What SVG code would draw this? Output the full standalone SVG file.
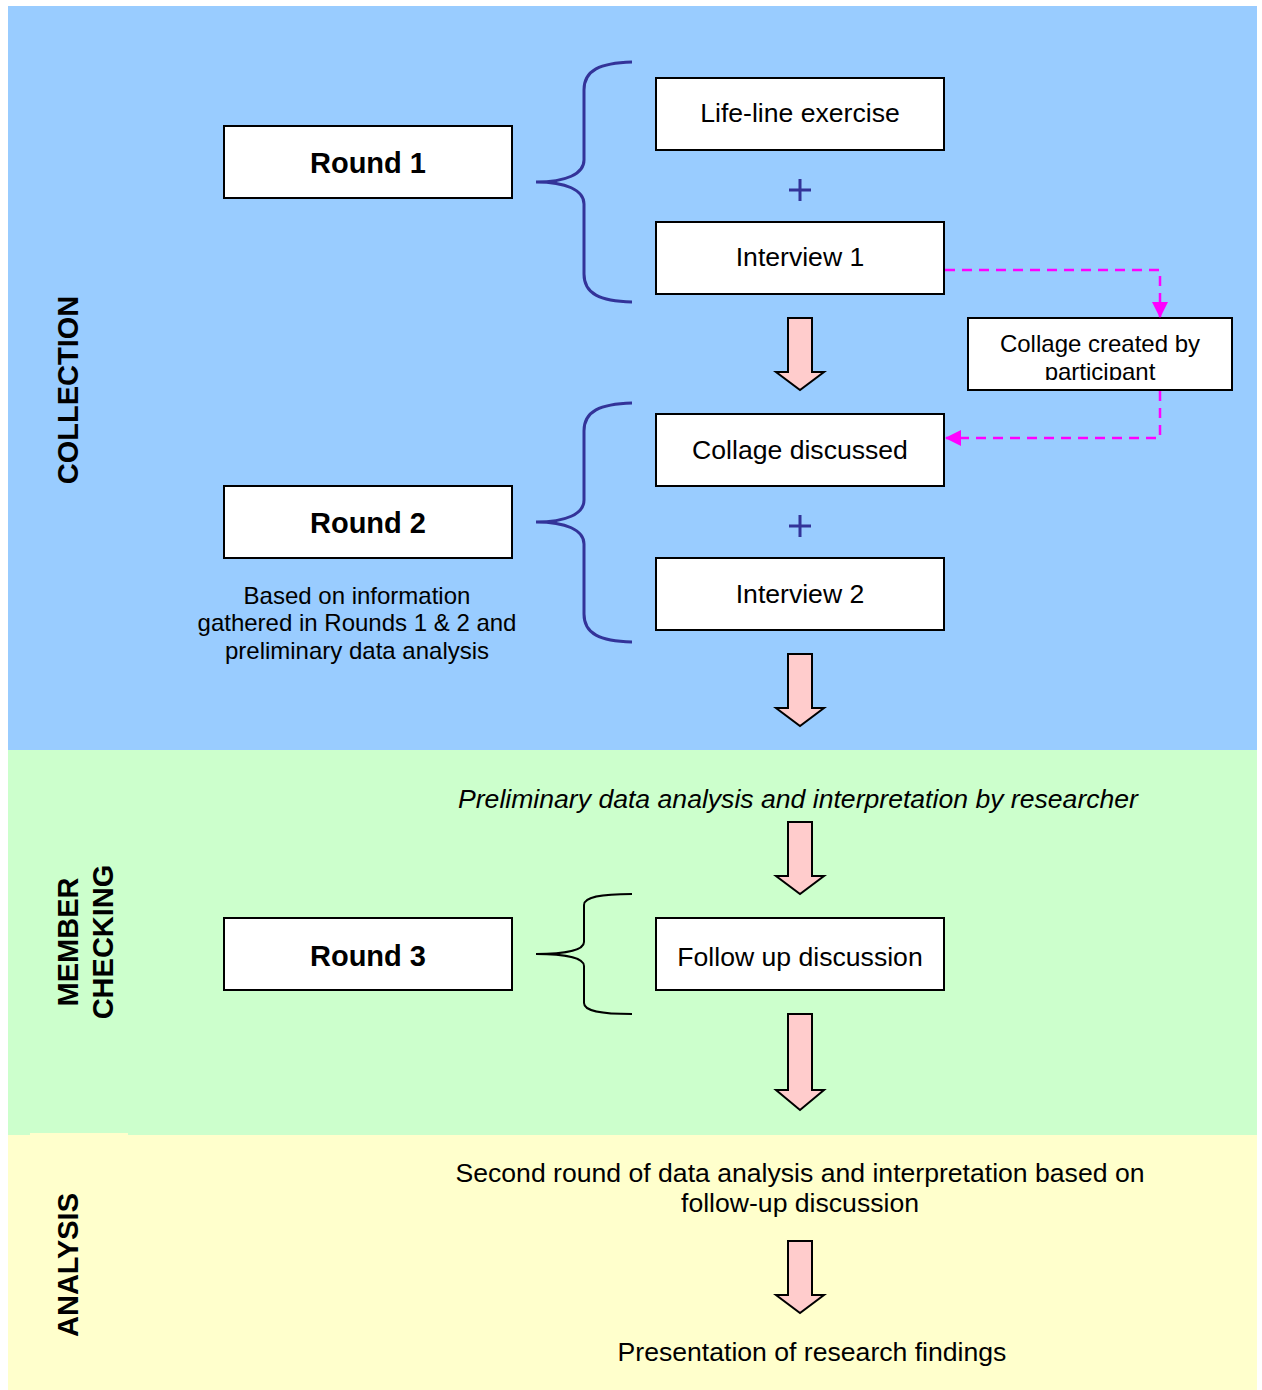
<svg xmlns="http://www.w3.org/2000/svg" width="1262" height="1390" viewBox="0 0 1262 1390">
<defs>
<style>
.box{fill:#fff;stroke:#000;stroke-width:2}
.t{font-family:"Liberation Sans",Arial,sans-serif;font-size:24px;fill:#000;text-anchor:middle}
.m{font-size:26.6px}
.b{font-weight:bold;font-size:29px}
.side{font-family:"Liberation Sans",Arial,sans-serif;font-weight:bold;font-size:29px;fill:#000;text-anchor:middle}
.brace{fill:none;stroke:#333399;stroke-width:3}
.brace2{fill:none;stroke:#000;stroke-width:2}
.blk{fill:#FFCCCC;stroke:#000;stroke-width:2;stroke-linejoin:miter}
.dash{fill:none;stroke:#FF00FF;stroke-width:2.5;stroke-dasharray:10,7}
.plus{fill:none;stroke:#333399;stroke-width:3}
</style>
<marker id="mh" viewBox="0 0 16 16" refX="15" refY="8" markerWidth="16" markerHeight="16" markerUnits="userSpaceOnUse" orient="auto">
<path d="M0,0 L16,8 L0,16 Z" fill="#FF00FF"/>
</marker>
<clipPath id="cc"><rect x="968" y="318" width="264" height="62"/></clipPath>
</defs>
<rect x="0" y="0" width="1262" height="1390" fill="#fff"/>
<g id="bands">
<rect x="8" y="6" width="1249" height="744" fill="#99CCFF"/>
<rect x="8" y="750" width="1249" height="385" fill="#CCFFCC"/>
<rect x="8" y="1135" width="1249" height="255" fill="#FFFFCC"/>
<rect x="30" y="1133" width="98" height="3" fill="#FFFFCC"/>
</g>
<g id="labels">
<text class="side" transform="translate(78,390) rotate(-90)">COLLECTION</text>
<text class="side" transform="translate(78,942) rotate(-90)">MEMBER</text>
<text class="side" transform="translate(113,942) rotate(-90)">CHECKING</text>
<text class="side" transform="translate(78,1265) rotate(-90)">ANALYSIS</text>
</g>
<g id="round1"><rect class="box" x="224" y="126" width="288" height="72"/><text class="t b" x="368" y="173">Round 1</text></g>
<g id="lifeline"><rect class="box" x="656" y="78" width="288" height="72"/><text class="t m" x="800" y="122">Life-line exercise</text></g>
<g id="interview1"><rect class="box" x="656" y="222" width="288" height="72"/><text class="t m" x="800" y="266">Interview 1</text></g>
<g id="collage"><rect class="box" x="968" y="318" width="264" height="72"/><g clip-path="url(#cc)"><text class="t" x="1100" y="352">Collage created by</text><text class="t" x="1100" y="380">participant</text></g></g>
<g id="collagediscussed"><rect class="box" x="656" y="414" width="288" height="72"/><text class="t m" x="800" y="459">Collage discussed</text></g>
<g id="interview2"><rect class="box" x="656" y="558" width="288" height="72"/><text class="t m" x="800" y="603">Interview 2</text></g>
<g id="round2"><rect class="box" x="224" y="486" width="288" height="72"/><text class="t b" x="368" y="533">Round 2</text></g>
<g id="round2note"><text class="t" x="357" y="604">Based on information</text><text class="t" x="357" y="631">gathered in Rounds 1 &amp; 2 and</text><text class="t" x="357" y="659">preliminary data analysis</text></g>
<g id="prelim"><text class="t m" x="798" y="808" font-style="italic">Preliminary data analysis and interpretation by researcher</text></g>
<g id="round3"><rect class="box" x="224" y="918" width="288" height="72"/><text class="t b" x="368" y="966">Round 3</text></g>
<g id="followup"><rect class="box" x="656" y="918" width="288" height="72"/><text class="t m" x="800" y="966">Follow up discussion</text></g>
<g id="second"><text class="t m" x="800" y="1182">Second round of data analysis and interpretation based on</text><text class="t m" x="800" y="1212">follow-up discussion</text></g>
<g id="presentation"><text class="t m" x="812" y="1361">Presentation of research findings</text></g>
<g id="connectors">
<path class="brace" d="M632,62 C600,63 584,70 584,90 L584,160 C584,174 566,182 536,182 C566,182 584,190 584,204 L584,274 C584,294 600,301 632,302"/>
<path class="brace" d="M632,403 C600,404 584,411 584,431 L584,500 C584,514 566,522 536,522 C566,522 584,530 584,544 L584,614 C584,634 600,641 632,642"/>
<path class="brace2" d="M632,894 C600,894 584,897 584,905 L584,942 C584,950 566,954 536,954 C566,954 584,958 584,966 L584,1003 C584,1011 600,1014 632,1014"/>
<path class="plus" d="M789,190 H811 M800,179 V201"/>
<path class="plus" d="M789,526 H811 M800,515 V537"/>
<path class="blk" d="M788,318 H812 V372 H824 L800,390 L776,372 H788 Z"/>
<path class="blk" d="M788,654 H812 V708 H824 L800,726 L776,708 H788 Z"/>
<path class="blk" d="M788,822 H812 V876 H824 L800,894 L776,876 H788 Z"/>
<path class="blk" d="M788,1014 H812 V1090 H824 L800,1110 L776,1090 H788 Z"/>
<path class="blk" d="M788,1241 H812 V1295 H824 L800,1313 L776,1295 H788 Z"/>
<path class="dash" d="M945,270 H1160 V317" marker-end="url(#mh)"/>
<path class="dash" d="M1160,391 V438 H946" marker-end="url(#mh)"/>
</g>
</svg>
